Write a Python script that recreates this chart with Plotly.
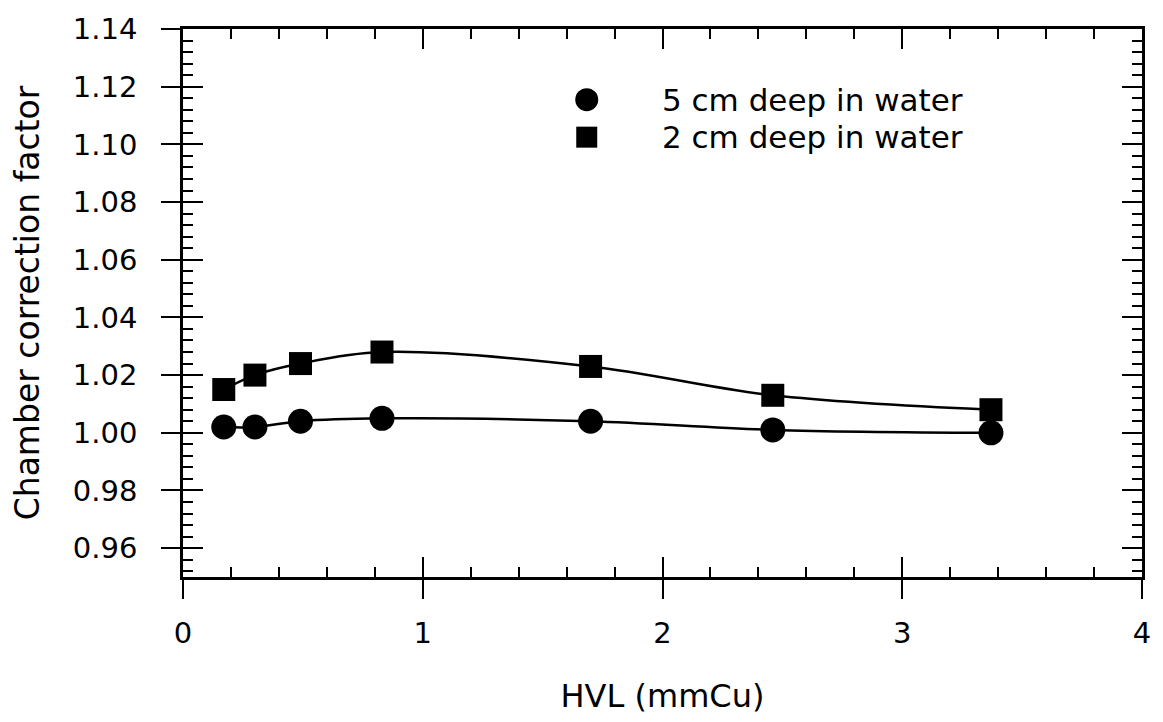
import plotly.graph_objects as go

# ---- data ----
hvl = [0.17, 0.30, 0.49, 0.83, 1.70, 2.46, 3.37]
ccf_5cm = [1.002, 1.002, 1.004, 1.005, 1.004, 1.001, 1.000]
ccf_2cm = [1.015, 1.020, 1.024, 1.028, 1.023, 1.013, 1.008]
series_names = ["5 cm deep in water", "2 cm deep in water"]
x_tickvals = [0, 1, 2, 3, 4]
y_tickvals = [0.96, 0.98, 1.00, 1.02, 1.04, 1.06, 1.08, 1.10, 1.12, 1.14]

FONT = "DejaVu Sans"
X_RANGE = [0, 4]
Y_RANGE = [0.95, 1.14]

fig = go.Figure()

fig.add_trace(go.Scatter(
    x=hvl, y=ccf_5cm, mode="lines+markers", name=series_names[0],
    line=dict(color="black", width=2.5, shape="spline", smoothing=1.0),
    marker=dict(symbol="circle", size=25, color="black", line=dict(width=0)),
    showlegend=False,
))
fig.add_trace(go.Scatter(
    x=hvl, y=ccf_2cm, mode="lines+markers", name=series_names[1],
    line=dict(color="black", width=2.5, shape="spline", smoothing=1.0),
    marker=dict(symbol="square", size=23, color="black", line=dict(width=0)),
    showlegend=False,
))
# empty trace so that the overlay (inside-tick) axes are drawn
fig.add_trace(go.Scatter(x=[], y=[], xaxis="x2", yaxis="y2", showlegend=False,
                         hoverinfo="skip"))

tickfont = dict(family=FONT, size=29, color="black")

fig.update_layout(
    width=1163, height=722,
    margin=dict(l=183, r=18, t=27, b=145),
    paper_bgcolor="white", plot_bgcolor="white",
    font=dict(family=FONT, color="black"),
    xaxis=dict(
        range=X_RANGE, tickvals=x_tickvals, ticks="outside", ticklen=19,
        tickwidth=2, tickcolor="black", showline=True, linecolor="black",
        linewidth=2.5, showgrid=False, zeroline=False, tickfont=tickfont,
        ticklabelstandoff=9,
        title=dict(text="HVL (mmCu)", font=dict(family=FONT, size=32),
                   standoff=37),
    ),
    yaxis=dict(
        range=Y_RANGE, tickvals=y_tickvals, tickformat=".2f", ticks="outside",
        ticklen=19, tickwidth=2, tickcolor="black", showline=True,
        linecolor="black", linewidth=2.5, showgrid=False, zeroline=False,
        tickfont=tickfont, ticklabelstandoff=18,
        title=dict(text="Chamber correction factor",
                   font=dict(family=FONT, size=33), standoff=24),
    ),
    xaxis2=dict(
        overlaying="x", anchor="y2", range=X_RANGE, tickvals=x_tickvals,
        ticks="inside", ticklen=20, tickwidth=2, tickcolor="black",
        showticklabels=False, showline=True, linecolor="black", linewidth=2.5,
        mirror="ticks", showgrid=False, zeroline=False,
        minor=dict(ticks="inside", dtick=0.2, tick0=0, ticklen=10,
                   tickwidth=2, tickcolor="black", showgrid=False),
    ),
    yaxis2=dict(
        overlaying="y", anchor="x2", range=Y_RANGE, tickvals=y_tickvals,
        ticks="inside", ticklen=20, tickwidth=2, tickcolor="black",
        showticklabels=False, showline=True, linecolor="black", linewidth=2.5,
        mirror="ticks", showgrid=False, zeroline=False,
        minor=dict(ticks="inside", dtick=0.004, tick0=0.96, ticklen=10,
                   tickwidth=2, tickcolor="black", showgrid=False),
    ),
)

# ---- hand-drawn legend (as in the reference) ----
leg_x_marker = 1.684
leg_x_text = 1.99
leg_y = [1.1155, 1.1025]
fig.add_shape(type="circle", xref="x", yref="y", xsizemode="pixel",
              ysizemode="pixel", xanchor=leg_x_marker, yanchor=leg_y[0],
              x0=-11.5, x1=11.5, y0=-11.5, y1=11.5,
              fillcolor="black", line=dict(width=0))
fig.add_shape(type="rect", xref="x", yref="y", xsizemode="pixel",
              ysizemode="pixel", xanchor=leg_x_marker, yanchor=leg_y[1],
              x0=-10.5, x1=10.5, y0=-10.5, y1=10.5,
              fillcolor="black", line=dict(width=0))
for name, yv in zip(series_names, leg_y):
    fig.add_annotation(x=leg_x_text, y=yv, xref="x", yref="y", text=name,
                       showarrow=False, xanchor="left", yanchor="middle",
                       font=dict(family=FONT, size=31, color="black"))

fig.write_html("out.html")
